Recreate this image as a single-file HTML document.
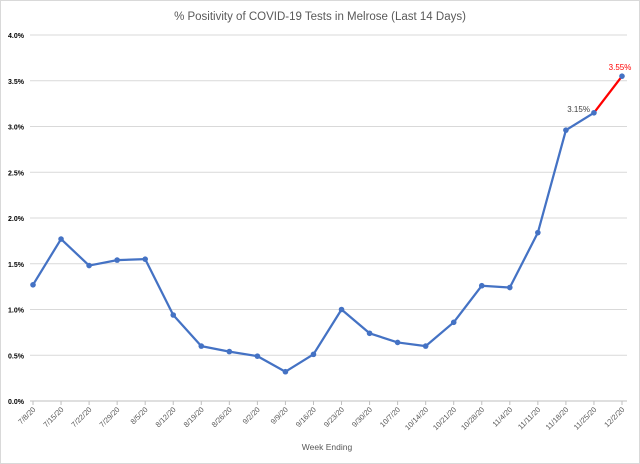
<!DOCTYPE html>
<html><head><meta charset="utf-8"><style>
html,body{margin:0;padding:0;background:#fff;}
svg{display:block;font-family:"Liberation Sans",sans-serif;}
</style></head><body>
<svg id="chart" width="640" height="464">
<rect x="0.5" y="0.5" width="639" height="463" fill="#fff" stroke="#d9d9d9"/>
<text x="320" y="20" text-anchor="middle" font-size="11.5" fill="#595959">% Positivity of COVID-19 Tests in Melrose (Last 14 Days)</text>
<g id="grid"></g><g id="yticks"></g><g id="xticks"></g><g id="series"></g>
<text x="327" y="450" text-anchor="middle" font-size="8.5" fill="#595959">Week Ending</text>
</svg>
<script>
const categories=["7/8/20","7/15/20","7/22/20","7/29/20","8/5/20","8/12/20","8/19/20","8/26/20","9/2/20","9/9/20","9/16/20","9/23/20","9/30/20","10/7/20","10/14/20","10/21/20","10/28/20","11/4/20","11/11/20","11/18/20","11/25/20","12/2/20"];
const values=[1.27,1.77,1.48,1.54,1.55,0.94,0.60,0.54,0.49,0.32,0.51,1.00,0.74,0.64,0.60,0.86,1.26,1.24,1.84,2.96,3.15,3.55];
const yTicks=[0,0.5,1,1.5,2,2.5,3,3.5,4];
const NS="http://www.w3.org/2000/svg";
const x0=33,x1=622,yb=401,yt=35,xl=30,xr=627;
const xs=i=>x0+i*(x1-x0)/(categories.length-1);
const ys=v=>yb-(v/4)*(yb-yt);
function mk(t,a,p){const e=document.createElementNS(NS,t);for(const k in a)e.setAttribute(k,a[k]);p.appendChild(e);return e;}
const grid=document.getElementById('grid'),yg=document.getElementById('yticks'),xg=document.getElementById('xticks'),sg=document.getElementById('series');
yTicks.forEach(v=>{
 const l=mk('line',{x1:xl,x2:xr,y1:ys(v),y2:ys(v),stroke:v===0?'#bfbfbf':'#d9d9d9','stroke-width':1},grid);
 
 
 const t=mk('text',{x:24,y:ys(v)+3,'text-anchor':'end','font-size':7,fill:'#000','font-weight':'bold'},yg);
 t.textContent=v.toFixed(1)+'%';
 
 
});
categories.forEach((c,i)=>{
 const x=xs(i);
 const tk=mk('line',{x1:x,x2:x,y1:yb,y2:yb+4,stroke:'#bfbfbf'},xg);
 
 
 const t=mk('text',{x:x+3,y:yb+9,'text-anchor':'end','font-size':7.5,fill:'#595959',transform:`rotate(-45 ${x+3} ${yb+9})`},xg);
 t.textContent=c;
 
 
});
const n=values.length;
let d='';for(let i=0;i<n-1;i++)d+=(i?'L':'M')+xs(i)+','+ys(values[i]);
const line=mk('path',{d:d,fill:'none',stroke:'#4472c4','stroke-width':2.25,'stroke-linejoin':'round'},sg);


const red=mk('line',{x1:xs(n-2),y1:ys(values[n-2]),x2:xs(n-1),y2:ys(values[n-1]),stroke:'#ff0000','stroke-width':2.25},sg);


values.forEach((v,i)=>{
 const c=mk('circle',{cx:xs(i),cy:ys(v),r:2.8,fill:'#4472c4'},sg);
 
 
});
const l1=mk('text',{x:xs(n-2)-4,y:ys(values[n-2])-1,'text-anchor':'end','font-size':8,fill:'#404040'},sg);
l1.textContent=values[n-2].toFixed(2)+'%';


const l2=mk('text',{x:xs(n-1)-2,y:ys(values[n-1])-6,'text-anchor':'middle','font-size':8,fill:'#ff0000'},sg);
l2.textContent=values[n-1].toFixed(2)+'%';


</script>
</body></html>
